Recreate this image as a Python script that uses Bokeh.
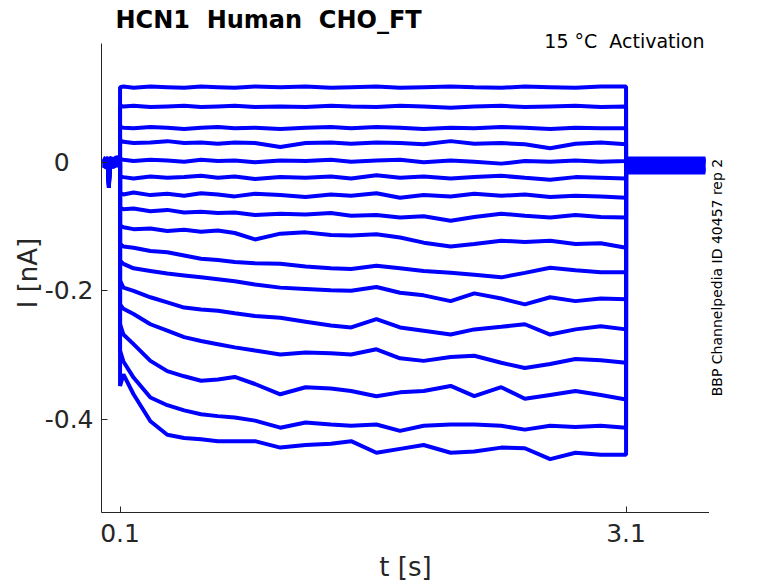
from bokeh.plotting import figure
from bokeh.layouts import row
from bokeh.models import Label, FixedTicker, Range1d
from bokeh.embed import file_html
from bokeh.resources import INLINE

# ---------------- data ----------------
# holding period before the step (shared shape), seconds / nA
hold_t = [0.0, 0.02, 0.03, 0.034, 0.038, 0.06, 0.08, 0.1]
hold_i = [0.001, -0.002, 0.002, -0.034, 0.001, -0.001, 0.002, 0.0]
hold_offset = [0.006, -0.004, 0.003, -0.006, 0.005, -0.002, 0.001, -0.005,
               0.004, -0.003, 0.002, -0.001, 0.005, -0.006, 0.000, 0.003]

# sampled times during the voltage step
pulse_t = [0.1, 0.12, 0.18, 0.28, 0.38, 0.48, 0.58, 0.68, 0.78, 0.9, 1.05, 1.2,
           1.35, 1.47, 1.62, 1.76, 1.9, 2.06, 2.2, 2.36, 2.5, 2.65, 2.8, 2.95, 3.1]

trace01 = [0.117, 0.118, 0.116, 0.118, 0.117, 0.116, 0.118, 0.117, 0.116, 0.118, 0.117, 0.118, 0.116,
           0.117, 0.118, 0.116, 0.117, 0.118, 0.117, 0.116, 0.118, 0.117, 0.116, 0.118, 0.118]
trace02 = [0.088, 0.087, 0.088, 0.086, 0.087, 0.088, 0.086, 0.087, 0.088, 0.086, 0.087, 0.086, 0.088,
           0.087, 0.086, 0.088, 0.087, 0.085, 0.087, 0.088, 0.086, 0.087, 0.088, 0.086, 0.087]
trace03 = [0.055, 0.054, 0.053, 0.055, 0.054, 0.052, 0.054, 0.055, 0.053, 0.054, 0.052, 0.054, 0.055,
           0.053, 0.055, 0.054, 0.052, 0.054, 0.053, 0.055, 0.054, 0.052, 0.054, 0.053, 0.053]
trace04 = [0.034, 0.032, 0.030, 0.031, 0.033, 0.030, 0.031, 0.029, 0.031, 0.030, 0.024, 0.030, 0.031,
           0.029, 0.031, 0.030, 0.028, 0.033, 0.029, 0.030, 0.028, 0.022, 0.029, 0.031, 0.028]
trace05 = [0.005, 0.004, 0.002, 0.004, 0.003, 0.001, 0.004, 0.002, 0.003, 0.000, 0.003, 0.002, 0.004,
           0.001, 0.003, 0.004, 0.000, 0.003, 0.001, -0.002, 0.002, 0.001, 0.003, 0.001, 0.002]
trace06 = [-0.022, -0.023, -0.025, -0.022, -0.024, -0.023, -0.021, -0.024, -0.022, -0.026, -0.023, -0.024, -0.022,
           -0.025, -0.020, -0.024, -0.022, -0.025, -0.023, -0.021, -0.024, -0.027, -0.023, -0.024, -0.025]
trace07 = [-0.048, -0.050, -0.047, -0.051, -0.049, -0.052, -0.048, -0.050, -0.053, -0.049, -0.051, -0.054, -0.050,
           -0.052, -0.048, -0.055, -0.051, -0.053, -0.049, -0.052, -0.050, -0.054, -0.052, -0.053, -0.055]
trace08 = [-0.071, -0.073, -0.072, -0.076, -0.074, -0.078, -0.077, -0.079, -0.078, -0.082, -0.080, -0.081, -0.079,
           -0.083, -0.082, -0.086, -0.084, -0.091, -0.085, -0.080, -0.083, -0.086, -0.082, -0.085, -0.086]
trace09 = [-0.099, -0.101, -0.104, -0.103, -0.107, -0.105, -0.108, -0.106, -0.110, -0.120, -0.111, -0.109, -0.113,
           -0.114, -0.112, -0.117, -0.125, -0.131, -0.127, -0.122, -0.124, -0.122, -0.127, -0.126, -0.133]
trace10 = [-0.127, -0.131, -0.133, -0.138, -0.140, -0.145, -0.150, -0.152, -0.155, -0.157, -0.158, -0.162, -0.165,
           -0.166, -0.161, -0.165, -0.169, -0.172, -0.175, -0.179, -0.172, -0.164, -0.168, -0.171, -0.171]
trace11 = [-0.153, -0.158, -0.165, -0.169, -0.173, -0.176, -0.179, -0.182, -0.185, -0.190, -0.195, -0.197, -0.199,
           -0.200, -0.194, -0.203, -0.207, -0.216, -0.204, -0.212, -0.221, -0.210, -0.216, -0.212, -0.213]
trace12 = [-0.184, -0.195, -0.200, -0.210, -0.218, -0.226, -0.229, -0.231, -0.235, -0.239, -0.242, -0.248, -0.254,
           -0.257, -0.244, -0.257, -0.262, -0.268, -0.260, -0.256, -0.252, -0.268, -0.260, -0.255, -0.260]
trace13 = [-0.221, -0.228, -0.236, -0.252, -0.262, -0.272, -0.278, -0.283, -0.288, -0.293, -0.299, -0.296, -0.297,
           -0.299, -0.291, -0.305, -0.309, -0.303, -0.301, -0.312, -0.320, -0.314, -0.306, -0.308, -0.312]
trace14 = [-0.252, -0.268, -0.283, -0.309, -0.325, -0.333, -0.340, -0.338, -0.334, -0.345, -0.361, -0.350, -0.352,
           -0.356, -0.364, -0.358, -0.356, -0.348, -0.364, -0.350, -0.368, -0.362, -0.356, -0.362, -0.369]
trace15 = [-0.293, -0.310, -0.335, -0.366, -0.378, -0.386, -0.392, -0.395, -0.397, -0.402, -0.413, -0.405, -0.408,
           -0.410, -0.408, -0.418, -0.410, -0.408, -0.408, -0.410, -0.416, -0.410, -0.412, -0.410, -0.413]
trace16 = [-0.348, -0.330, -0.361, -0.403, -0.424, -0.429, -0.431, -0.434, -0.434, -0.434, -0.444, -0.440, -0.438,
           -0.434, -0.452, -0.446, -0.440, -0.452, -0.450, -0.444, -0.445, -0.462, -0.452, -0.455, -0.455]

traces = [trace01, trace02, trace03, trace04, trace05, trace06, trace07, trace08,
          trace09, trace10, trace11, trace12, trace13, trace14, trace15, trace16]

# tail after the step
tail_t = [3.1, 3.57]
tail_level = [0.006, -0.010, 0.002, -0.014, 0.004, -0.006, -0.001, -0.016,
              0.005, -0.008, 0.000, -0.012, 0.003, -0.004, -0.011, 0.001]

x_start = -0.01
y_limits = (-0.545, 0.185)
x_ticks = [0.1, 3.1]
x_tick_labels = ["0.1", "3.1"]
y_ticks = [-0.4, -0.2, 0.0]
y_tick_labels = ["-0.4", "-0.2", "0"]

NB = "\u00a0"
title_text = "HCN1 " + NB + "Human " + NB + "CHO_FT"
subtitle_text = "15 \u00b0C " + NB + "Activation"
side_text = "BBP Channelpedia ID 40457 rep 2"

# ---------------- figure ----------------
FONT = "DejaVu Sans"
INK = "#262626"
W, H = 709, 604
LEFT, BOTTOM = 101, 92
PX_PER_S, PX_PER_NA = 168.67, 642.5
# frame reaches the top of the canvas so the title texts are inside it;
# the y axis line is limited by bounds
x_end = x_start + (W - LEFT) / PX_PER_S
y_end = y_limits[0] + (H - BOTTOM) / PX_PER_NA
y_range = Range1d(y_limits[0], y_end)

p = figure(width=W, height=H, output_backend="svg", toolbar_location=None,
           x_range=Range1d(x_start, x_end), y_range=y_range,
           min_border_left=LEFT, min_border_right=0, min_border_top=0, min_border_bottom=BOTTOM)
p.outline_line_color = None
p.grid.visible = False
p.background_fill_color = "white"
p.border_fill_color = "white"

for i, tr in enumerate(traces):
    xs = hold_t + pulse_t + tail_t
    ys = [v + hold_offset[i] for v in hold_i] + tr + [tail_level[i], tail_level[i]]
    p.line(xs, ys, line_color="#0000ff", line_width=4)

p.xaxis.ticker = FixedTicker(ticks=x_ticks)
p.yaxis.ticker = FixedTicker(ticks=y_ticks)
p.yaxis.bounds = y_limits
p.xaxis.major_label_overrides = {t: l for t, l in zip(x_ticks, x_tick_labels)}
# integer digits aligned as in the original (pad "0" by the width of ".2")
p.yaxis.major_label_overrides = {t: (l if "." in l else l + NB * 3)
                                 for t, l in zip(y_ticks, y_tick_labels)}

for ax in (p.xaxis[0], p.yaxis[0]):
    ax.axis_line_color = INK
    ax.axis_line_width = 1
    ax.major_tick_line_color = INK
    ax.major_tick_in = 6
    ax.major_tick_out = 0
    ax.minor_tick_line_color = None
    ax.major_label_text_font = FONT
    ax.major_label_text_font_size = "25px"
    ax.major_label_text_color = INK
    ax.axis_label_text_font = FONT
    ax.axis_label_text_font_size = "26px"
    ax.axis_label_text_font_style = "normal"
    ax.axis_label_text_color = INK

p.xaxis.axis_label = "t [s]"
# centre the label on the axis line (frame is taller than the axis)
p.yaxis.axis_label = "I [nA]" + NB * 4
p.xaxis.major_label_standoff = 11
p.xaxis.axis_label_standoff = 7
p.yaxis.major_label_standoff = 8
p.yaxis.axis_label_standoff = -1

p.add_layout(Label(x=0.073, y=0.2223, text=title_text, text_font=FONT, text_font_style="bold",
                   text_font_size="24px", text_color="black", text_baseline="alphabetic"))
p.add_layout(Label(x=3.565, y=0.1896, text=subtitle_text, text_font=FONT,
                   text_font_size="19px", text_color="black", text_align="right",
                   text_baseline="alphabetic"))

# narrow companion panel on the right for the vertical source note
SW = 60
s = figure(width=SW, height=H, output_backend="svg", toolbar_location=None,
           x_axis_type=None, y_axis_type=None,
           x_range=Range1d(0, SW), y_range=y_range,
           min_border_left=0, min_border_right=0, min_border_top=0, min_border_bottom=BOTTOM)
s.outline_line_color = None
s.grid.visible = False
s.background_fill_color = "white"
s.border_fill_color = "white"
s.add_layout(Label(x=7.5, y=-0.1793, text=side_text, text_font=FONT, angle=1.5708,
                   text_font_size="14px", text_color="black", text_align="center",
                   text_baseline="middle"))

open("out.html", "w").write(file_html(row(p, s), INLINE))
